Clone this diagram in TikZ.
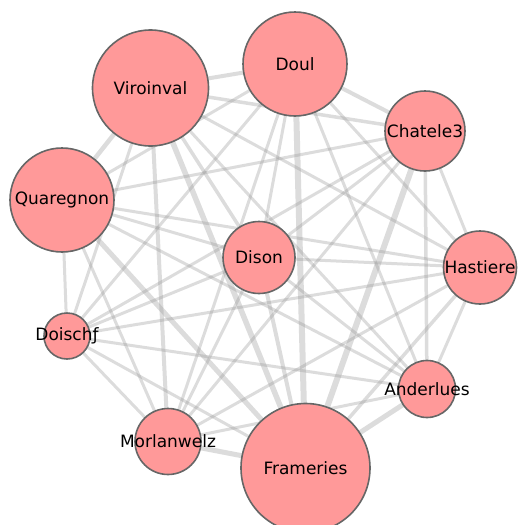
\documentclass[tikz,border=0pt]{standalone}
\usepackage{fontspec}
\setmainfont{DejaVu Sans}
\definecolor{nodefill}{RGB}{255,153,153}
\definecolor{nodeline}{RGB}{102,102,102}
\definecolor{edgecol}{RGB}{150,150,150}
\pgfdeclarelayer{bg}
\pgfsetlayers{bg,main}
\tikzset{
  nd/.style={circle, fill=nodefill, draw=nodeline, line width=1.6pt, inner sep=0pt, minimum size=#1},
  ed/.style={draw=edgecol, draw opacity=0.33, line width=#1},
  every label/.style={font=\fontsize{17}{20}\selectfont, text=black},
}
\begin{document}
\begin{tikzpicture}[x=1pt,y=-1pt]
\useasboundingbox (0,0) rectangle (518,525);
\node[nd=116pt, label=center:Viroinval] (V) at (150.5,88) {};
\node[nd=104pt, label=center:Doul] (D) at (295,64) {};
\node[nd=80pt, label=center:Chatele3] (C) at (425,131) {};
\node[nd=104pt, label=center:Quaregnon] (Q) at (62,200) {};
\node[nd=72pt, label=center:Dison] (S) at (259,257.5) {};
\node[nd=73pt, label=center:Hastiere] (H) at (480,267.5) {};
\node[nd=46pt, label=center:Doischƒ] (O) at (67,336) {};
\node[nd=57pt, label=center:Anderlues] (A) at (427,389) {};
\node[nd=66pt, label=center:Morlanwelz] (M) at (168,441.5) {};
\node[nd=129pt, label=center:Frameries] (R) at (305.5,468) {};
\begin{pgfonlayer}{bg}
\draw[ed=4pt] (V.center) -- (D.center);
\draw[ed=3.5pt] (V.center) -- (C.center);
\draw[ed=4.5pt] (V.center) -- (Q.center);
\draw[ed=3.5pt] (V.center) -- (S.center);
\draw[ed=5.5pt] (V.center) -- (R.center);
\draw[ed=4pt] (V.center) -- (M.center);
\draw[ed=3pt] (V.center) -- (O.center);
\draw[ed=3pt] (V.center) -- (H.center);
\draw[ed=3pt] (V.center) -- (A.center);
\draw[ed=4pt] (D.center) -- (C.center);
\draw[ed=6pt] (D.center) -- (R.center);
\draw[ed=3pt] (D.center) -- (S.center);
\draw[ed=3pt] (D.center) -- (H.center);
\draw[ed=3pt] (D.center) -- (A.center);
\draw[ed=3pt] (D.center) -- (Q.center);
\draw[ed=3pt] (D.center) -- (M.center);
\draw[ed=3pt] (D.center) -- (O.center);
\draw[ed=6pt] (C.center) -- (R.center);
\draw[ed=3.5pt] (C.center) -- (A.center);
\draw[ed=3pt] (C.center) -- (H.center);
\draw[ed=3pt] (C.center) -- (Q.center);
\draw[ed=3pt] (C.center) -- (S.center);
\draw[ed=3pt] (C.center) -- (M.center);
\draw[ed=3pt] (C.center) -- (O.center);
\draw[ed=5pt] (Q.center) -- (R.center);
\draw[ed=3pt] (Q.center) -- (H.center);
\draw[ed=3pt] (Q.center) -- (S.center);
\draw[ed=3pt] (Q.center) -- (O.center);
\draw[ed=3pt] (Q.center) -- (A.center);
\draw[ed=3pt] (Q.center) -- (M.center);
\draw[ed=4pt] (S.center) -- (R.center);
\draw[ed=3pt] (S.center) -- (H.center);
\draw[ed=3pt] (S.center) -- (A.center);
\draw[ed=3pt] (S.center) -- (M.center);
\draw[ed=3pt] (S.center) -- (O.center);
\draw[ed=3pt] (H.center) -- (A.center);
\draw[ed=3.5pt] (H.center) -- (R.center);
\draw[ed=3pt] (H.center) -- (M.center);
\draw[ed=3pt] (H.center) -- (O.center);
\draw[ed=5pt] (A.center) -- (R.center);
\draw[ed=3pt] (A.center) -- (M.center);
\draw[ed=3pt] (A.center) -- (O.center);
\draw[ed=5pt] (M.center) -- (R.center);
\draw[ed=3pt] (M.center) -- (O.center);
\draw[ed=3pt] (R.center) -- (O.center);
\end{pgfonlayer}
\end{tikzpicture}
\end{document}
